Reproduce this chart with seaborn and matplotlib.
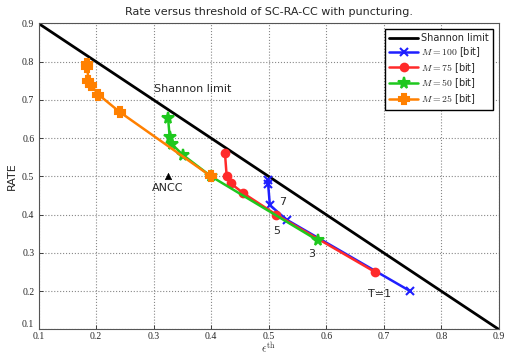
import matplotlib
matplotlib.use("Agg")
import matplotlib.pyplot as plt
import seaborn as sns
import pandas as pd

# Shannon limit
shannon_eps = [0.1, 0.9]
shannon_rate = [0.9, 0.1]

# M = 100 [bit]
m100_eps = [0.746, 0.531, 0.502, 0.499, 0.498, 0.498]
m100_rate = [0.200, 0.387, 0.425, 0.480, 0.487, 0.493]
# M = 75 [bit]
m75_eps = [0.685, 0.513, 0.456, 0.434, 0.427, 0.424, 0.424]
m75_rate = [0.250, 0.400, 0.456, 0.482, 0.500, 0.555, 0.565]
# M = 50 [bit]
m50_eps = [0.585, 0.400, 0.351, 0.332, 0.328, 0.325, 0.325]
m50_rate = [0.333, 0.500, 0.556, 0.584, 0.602, 0.650, 0.658]
# M = 25 [bit]
m25_eps = [0.400, 0.2415, 0.204, 0.191, 0.1865, 0.185, 0.1848]
m25_rate = [0.500, 0.668, 0.714, 0.740, 0.749, 0.787, 0.795]

ancc_eps = [0.325]
ancc_rate = [0.500]

series = [
    ("$M = 100$ [bit]", m100_eps, m100_rate, "#1f1fff", "x", 5.5),
    ("$M = 75$ [bit]", m75_eps, m75_rate, "#ff2a2a", "o", 5.5),
    ("$M = 50$ [bit]", m50_eps, m50_rate, "#1ec81e", "*", 8.5),
    ("$M = 25$ [bit]", m25_eps, m25_rate, "#ff8000", "P", 6.5),
]

sns.set_style("ticks")
plt.rcParams["mathtext.fontset"] = "cm"
fig = plt.figure(figsize=(5.07, 3.55), dpi=100)
ax = fig.add_axes([0.076, 0.072, 0.908, 0.862])

sns.lineplot(x=shannon_eps, y=shannon_rate, ax=ax, color="black", lw=2,
             label="Shannon limit", sort=False)
for lab, xs, ys, col, mk, ms in series:
    df = pd.DataFrame({"eps": xs, "rate": ys})
    sns.lineplot(data=df, x="eps", y="rate", ax=ax, color=col, lw=1.8,
                 marker=mk, markersize=ms, markeredgecolor=col,
                 markeredgewidth=1.5, label=lab, sort=False)

sns.scatterplot(x=ancc_eps, y=ancc_rate, ax=ax, marker="^", color="black",
                s=22, edgecolor="black", legend=False, zorder=5)

ax.set_xlim(0.1, 0.9)
ax.set_ylim(0.1, 0.9)
ticks = [0.1, 0.2, 0.3, 0.4, 0.5, 0.6, 0.7, 0.8, 0.9]
ax.set_xticks(ticks)
ax.set_yticks(ticks)
ax.set_xticklabels([f"{t:.1f}" for t in ticks], family="Liberation Serif", fontsize=7)
ax.set_yticklabels([f"{t:.1f}" for t in ticks], family="Liberation Serif", fontsize=7)
ax.tick_params(direction="in", length=3, width=0.6, pad=1.5)
ax.tick_params(axis="y", pad=3)
ax.get_yticklabels()[0].set_va("bottom")
ax.grid(True, linestyle=":", color="#888888", lw=0.8)
for s in ax.spines.values():
    s.set_color("#555555")
    s.set_linewidth(0.8)

ax.set_xlabel(r"$\epsilon^{\mathrm{th}}$", fontsize=8, labelpad=0)
ax.set_ylabel("RATE", fontsize=8, labelpad=4)
ax.set_title("Rate versus threshold of SC-RA-CC with puncturing.", fontsize=8, pad=6)

ax.text(0.30, 0.72, "Shannon limit", fontsize=8)
ax.text(0.325, 0.483, "ANCC", fontsize=8, ha="center", va="top")
ax.text(0.524, 0.433, "7", fontsize=8, ha="center", va="center")
ax.text(0.514, 0.358, "5", fontsize=8, ha="center", va="center")
ax.text(0.575, 0.298, "3", fontsize=8, ha="center", va="center")
ax.text(0.692, 0.192, "T=1", fontsize=8, ha="center", va="center")

leg = ax.legend(loc="upper right", fontsize=7, frameon=True, fancybox=False,
                edgecolor="black", framealpha=1, borderpad=0.4,
                labelspacing=0.2, handlelength=3, handletextpad=0.3,
                borderaxespad=0.6)
leg.get_frame().set_linewidth(1.0)

fig.savefig("out.png", dpi=100)
